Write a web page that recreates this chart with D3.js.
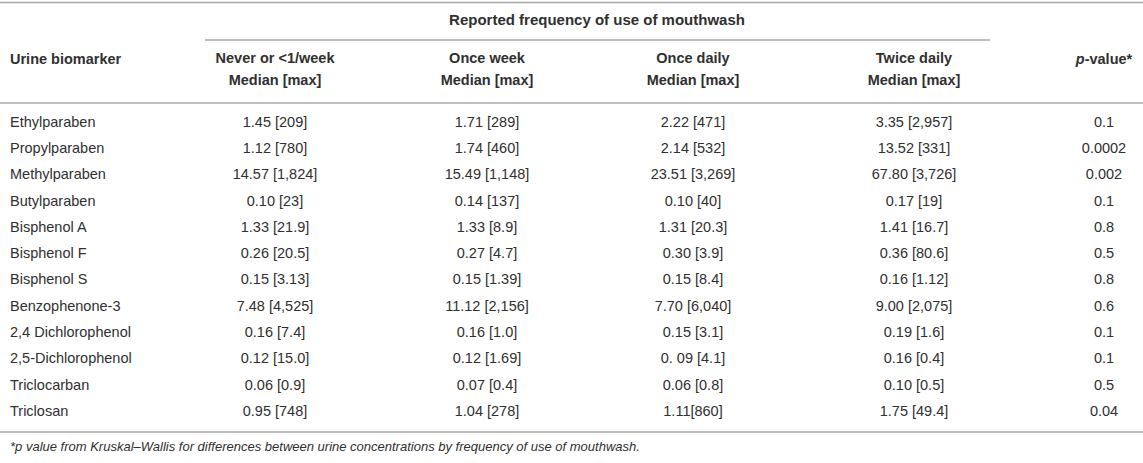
<!DOCTYPE html>
<html>
<head>
<meta charset="utf-8">
<script src="https://cdn.jsdelivr.net/npm/d3@7"></script>
<style>
  body { margin: 0; background: #fff; }
  text { font-family: "Liberation Sans", Arial, sans-serif; fill: #303030; }
</style>
</head>
<body>
<div id="canvas"></div>
<script>
var w = 1143;
var h = 463;

var biomarkers = ["Ethylparaben", "Propylparaben", "Methylparaben", "Butylparaben",
    "Bisphenol A", "Bisphenol F", "Bisphenol S", "Benzophenone-3",
    "2,4 Dichlorophenol", "2,5-Dichlorophenol", "Triclocarban", "Triclosan"];

var colHeaders = ["Never or <1/week", "Once week", "Once daily", "Twice daily"];

var neverOrLess = ["1.45 [209]", "1.12 [780]", "14.57 [1,824]", "0.10 [23]", "1.33 [21.9]",
    "0.26 [20.5]", "0.15 [3.13]", "7.48 [4,525]", "0.16 [7.4]", "0.12 [15.0]", "0.06 [0.9]", "0.95 [748]"];
var onceWeek = ["1.71 [289]", "1.74 [460]", "15.49 [1,148]", "0.14 [137]", "1.33 [8.9]",
    "0.27 [4.7]", "0.15 [1.39]", "11.12 [2,156]", "0.16 [1.0]", "0.12 [1.69]", "0.07 [0.4]", "1.04 [278]"];
var onceDaily = ["2.22 [471]", "2.14 [532]", "23.51 [3,269]", "0.10 [40]", "1.31 [20.3]",
    "0.30 [3.9]", "0.15 [8.4]", "7.70 [6,040]", "0.15 [3.1]", "0. 09 [4.1]", "0.06 [0.8]", "1.11[860]"];
var twiceDaily = ["3.35 [2,957]", "13.52 [331]", "67.80 [3,726]", "0.17 [19]", "1.41 [16.7]",
    "0.36 [80.6]", "0.16 [1.12]", "9.00 [2,075]", "0.19 [1.6]", "0.16 [0.4]", "0.10 [0.5]", "1.75 [49.4]"];
var pValues = ["0.1", "0.0002", "0.002", "0.1", "0.8", "0.5", "0.8", "0.6", "0.1", "0.1", "0.5", "0.04"];

var fontSize = 14.5;
var lineColor = "#a8a8a8";

var canvas = d3.select("#canvas")
    .append("svg")
    .attr("width", w)
    .attr("height", h);

// column centres
var colKeys = ["never", "week", "daily", "twice", "p"];
var xScale = d3.scaleOrdinal()
    .domain(colKeys)
    .range([275, 487, 693, 914, 1104]);

// row centres
var yScale = d3.scalePoint()
    .domain(biomarkers)
    .range([123, 412]);

function hline(x1, x2, y) {
    canvas.append("line")
        .attr("x1", x1).attr("x2", x2)
        .attr("y1", y).attr("y2", y)
        .attr("stroke", lineColor)
        .attr("stroke-width", 1.5);
}

hline(0, w, 2.5);
hline(205, 990, 40);
hline(0, w, 103);
hline(0, w, 432);

// spanning header
canvas.append("text")
    .attr("x", 597)
    .attr("y", 21)
    .attr("text-anchor", "middle")
    .attr("dominant-baseline", "middle")
    .attr("font-size", 15)
    .attr("font-weight", "bold")
    .text("Reported frequency of use of mouthwash");

canvas.append("text")
    .attr("x", 10)
    .attr("y", 60)
    .attr("dominant-baseline", "middle")
    .attr("font-size", fontSize)
    .attr("font-weight", "bold")
    .text("Urine biomarker");

var heads = canvas.selectAll(".head")
    .data(colHeaders)
    .join("text")
    .attr("class", "head")
    .attr("text-anchor", "middle")
    .attr("font-size", fontSize)
    .attr("font-weight", "bold");

heads.append("tspan")
    .attr("x", function (d, i) { return xScale(colKeys[i]); })
    .attr("y", 59)
    .attr("dominant-baseline", "middle")
    .text(function (d) { return d; });

heads.append("tspan")
    .attr("x", function (d, i) { return xScale(colKeys[i]); })
    .attr("y", 81)
    .attr("dominant-baseline", "middle")
    .text("Median [max]");

var pHead = canvas.append("text")
    .attr("x", xScale("p"))
    .attr("y", 60)
    .attr("text-anchor", "middle")
    .attr("dominant-baseline", "middle")
    .attr("font-size", fontSize)
    .attr("font-weight", "bold");
pHead.append("tspan").attr("font-style", "italic").text("p");
pHead.append("tspan").text("-value*");

// body rows
canvas.selectAll(".name")
    .data(biomarkers)
    .join("text")
    .attr("class", "name")
    .attr("x", 10)
    .attr("y", function (d) { return yScale(d); })
    .attr("dominant-baseline", "middle")
    .attr("font-size", fontSize)
    .text(function (d) { return d; });

var columns = [neverOrLess, onceWeek, onceDaily, twiceDaily, pValues];

columns.forEach(function (col, c) {
    canvas.selectAll(".c" + c)
        .data(col)
        .join("text")
        .attr("class", "c" + c)
        .attr("x", xScale(colKeys[c]))
        .attr("y", function (d, i) { return yScale(biomarkers[i]); })
        .attr("text-anchor", "middle")
        .attr("dominant-baseline", "middle")
        .attr("font-size", fontSize)
        .text(function (d) { return d; });
});

canvas.append("text")
    .attr("x", 10)
    .attr("y", 448)
    .attr("dominant-baseline", "middle")
    .attr("font-size", 13)
    .attr("font-style", "italic")
    .text("*p value from Kruskal\u2013Wallis for differences between urine concentrations by frequency of use of mouthwash.");
</script>
</body>
</html>
